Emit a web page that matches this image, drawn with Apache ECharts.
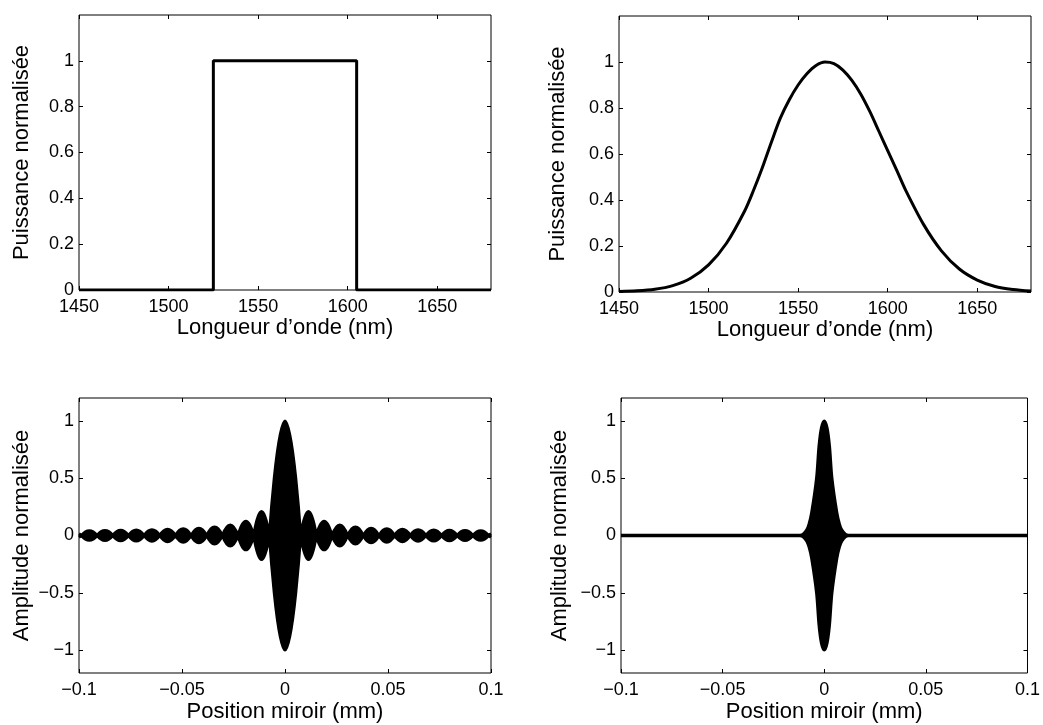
<!DOCTYPE html>
<html>
<head>
<meta charset="utf-8">
<title>Spectre et interférogramme</title>
<script src="https://cdn.jsdelivr.net/npm/echarts@6/dist/echarts.min.js"></script>
<style>
  html, body { margin: 0; padding: 0; background: #fff; }
  #main { width: 1043px; height: 725px; }
</style>
</head>
<body>
<div id="main"></div>
<script>
// spectre rectangulaire (haut gauche)
const rectLambda = [1450, 1525, 1525, 1605, 1605, 1680];
const rectPower = [0, 0, 1, 1, 0, 0];

// spectre gaussien (haut droite)
const gaussLambda = [1450, 1460, 1470, 1480, 1490, 1500, 1510, 1520, 1525, 1530, 1535, 1540, 1545,
  1550, 1555, 1560, 1565, 1570, 1575, 1580, 1585, 1590, 1595, 1600, 1605, 1610, 1620, 1630,
  1640, 1650, 1660, 1670, 1680];
const gaussPower = [0.002, 0.005, 0.012, 0.028, 0.06, 0.118, 0.212, 0.35, 0.44, 0.54, 0.65, 0.755, 0.835,
  0.9, 0.95, 0.985, 1, 0.993, 0.965, 0.92, 0.86, 0.785, 0.7, 0.615, 0.53, 0.443, 0.294, 0.179,
  0.1, 0.052, 0.024, 0.011, 0.004];

// interférogramme du spectre rectangulaire : zéros et sommets des lobes de l'enveloppe
const sincZeros = [-0.0988, -0.0912, -0.0836, -0.076, -0.0684, -0.0608, -0.0532, -0.0456, -0.038,
  -0.0304, -0.0228, -0.0152, -0.0076, 0.0076, 0.0152, 0.0228, 0.0304, 0.038, 0.0456, 0.0532,
  0.0608, 0.0684, 0.076, 0.0836, 0.0912, 0.0988];
const sincPeakX = [-0.095, -0.0874, -0.0798, -0.0722, -0.0646, -0.057, -0.0494, -0.0418, -0.0342,
  -0.0266, -0.019, -0.0114, 0, 0.0114, 0.019, 0.0266, 0.0342, 0.0418, 0.0494, 0.057, 0.0646,
  0.0722, 0.0798, 0.0874, 0.095];
const sincPeakY = [0.042, 0.043, 0.045, 0.047, 0.05, 0.054, 0.058, 0.064, 0.075, 0.092, 0.125, 0.21, 1,
  0.21, 0.125, 0.092, 0.075, 0.064, 0.058, 0.054, 0.05, 0.047, 0.045, 0.043, 0.042];
const sincEdge = 0.015;

// interférogramme du spectre gaussien : enveloppe
const gaussPos = [-0.1, -0.012, -0.0105, -0.0086, -0.0075, -0.0062, -0.0038, -0.0026, -0.0014, 0,
  0.0014, 0.0026, 0.0038, 0.0062, 0.0075, 0.0086, 0.0105, 0.012, 0.1];
const gaussEnv = [0, 0, 0.01, 0.05, 0.1, 0.2, 0.5, 0.78, 0.94, 1,
  0.94, 0.78, 0.5, 0.2, 0.1, 0.05, 0.01, 0, 0];

const specTicks = [1450, 1500, 1550, 1600, 1650];
const powerTicks = [0, 0.2, 0.4, 0.6, 0.8, 1];
const posTicks = [-0.1, -0.05, 0, 0.05, 0.1];
const ampTicks = [-1, -0.5, 0, 0.5, 1];

const FONT = 'Liberation Sans, Arial, Helvetica, sans-serif';
const minus = v => String(v).replace('-', '\u2212');

const grids = [
  { left: 79, top: 15, width: 412, height: 275 },
  { left: 619, top: 16, width: 412, height: 276 },
  { left: 79, top: 398, width: 412, height: 275 },
  { left: 621, top: 398, width: 411, height: 275 }
];

function xAxis(i, min, max, ticks, name, top) {
  return {
    type: 'value', gridIndex: i, min: min, max: max, position: top ? 'top' : 'bottom',
    name: top ? '' : name, nameLocation: 'middle', nameGap: i < 2 ? 26 : 28,
    nameTextStyle: { color: '#000', fontSize: 22, fontFamily: FONT },
    axisLine: { show: false, onZero: false },
    axisTick: { show: true, inside: true, length: 4, customValues: ticks, lineStyle: { color: '#000' } },
    axisLabel: {
      show: !top, customValues: ticks, formatter: minus, margin: 8,
      color: '#000', fontSize: 18, fontFamily: FONT, showMinLabel: true, showMaxLabel: true
    },
    splitLine: { show: false }
  };
}

function yAxis(i, min, max, ticks, name, right) {
  return {
    type: 'value', gridIndex: i, min: min, max: max, position: right ? 'right' : 'left',
    name: right ? '' : name, nameLocation: 'middle', nameRotate: 90, nameGap: i % 2 ? 50 : 46,
    nameTextStyle: { color: '#000', fontSize: 22, fontFamily: FONT },
    axisLine: { show: false, onZero: false },
    axisTick: { show: true, inside: true, length: 4, customValues: ticks, lineStyle: { color: '#000' } },
    axisLabel: {
      show: !right, customValues: ticks, formatter: minus, margin: 5,
      color: '#000', fontSize: 18, fontFamily: FONT
    },
    splitLine: { show: false }
  };
}

// lobes de l'enveloppe, séparés par des trous pour garder des noeuds pointus
function sincData(sign) {
  const pts = [[-0.1, sign * sincEdge], [sincZeros[0], 0], [sincZeros[0], '-']];
  for (let i = 0; i < sincPeakX.length; i++) {
    pts.push([sincZeros[i], 0], [sincPeakX[i], sign * sincPeakY[i]], [sincZeros[i + 1], 0], [sincZeros[i + 1], '-']);
  }
  pts.push([sincZeros[sincZeros.length - 1], 0], [0.1, sign * sincEdge]);
  return pts;
}

function envSeries(i, data, smooth) {
  return {
    type: 'line', xAxisIndex: i, yAxisIndex: i, data: data, smooth: smooth,
    showSymbol: false, symbol: 'none', connectNulls: false,
    lineStyle: { color: '#000', width: 3 },
    areaStyle: { color: '#000', opacity: 1 }
  };
}

// trait épais à zéro (cache aussi la jointure entre les deux aires)
function zeroSeries(i) {
  return {
    type: 'line', xAxisIndex: i, yAxisIndex: i, symbol: 'none', z: 3,
    data: [[-0.1, 0], [0.1, 0]],
    lineStyle: { color: '#000', width: 3.5 }
  };
}

const chart = echarts.init(document.getElementById('main'), null, { renderer: 'canvas' });

chart.setOption({
  animation: false,
  backgroundColor: '#fff',
  grid: grids.map(g => Object.assign({ show: true, borderColor: '#000', borderWidth: 1, backgroundColor: 'transparent' }, g)),
  xAxis: [
    xAxis(0, 1450, 1680, specTicks, 'Longueur d\u2019onde (nm)'),
    xAxis(1, 1450, 1680, specTicks, 'Longueur d\u2019onde (nm)'),
    xAxis(2, -0.1, 0.1, posTicks, 'Position miroir (mm)'),
    xAxis(3, -0.1, 0.1, posTicks, 'Position miroir (mm)'),
    xAxis(0, 1450, 1680, specTicks, '', true),
    xAxis(1, 1450, 1680, specTicks, '', true),
    xAxis(2, -0.1, 0.1, posTicks, '', true),
    xAxis(3, -0.1, 0.1, posTicks, '', true)
  ],
  yAxis: [
    yAxis(0, 0, 1.2, powerTicks, 'Puissance normalisée'),
    yAxis(1, 0, 1.2, powerTicks, 'Puissance normalisée'),
    yAxis(2, -1.2, 1.2, ampTicks, 'Amplitude normalisée'),
    yAxis(3, -1.2, 1.2, ampTicks, 'Amplitude normalisée'),
    yAxis(0, 0, 1.2, powerTicks, '', true),
    yAxis(1, 0, 1.2, powerTicks, '', true),
    yAxis(2, -1.2, 1.2, ampTicks, '', true),
    yAxis(3, -1.2, 1.2, ampTicks, '', true)
  ],
  series: [
    {
      type: 'line', xAxisIndex: 0, yAxisIndex: 0, symbol: 'none',
      data: rectLambda.map((l, k) => [l, rectPower[k]]),
      lineStyle: { color: '#000', width: 3 }
    },
    {
      type: 'line', xAxisIndex: 1, yAxisIndex: 1, symbol: 'none', smooth: 0.3,
      data: gaussLambda.map((l, k) => [l, gaussPower[k]]),
      lineStyle: { color: '#000', width: 3 }
    },
    envSeries(2, sincData(1), true),
    envSeries(2, sincData(-1), true),
    zeroSeries(2),
    envSeries(3, gaussPos.map((p, k) => [p, gaussEnv[k]]), 0.3),
    envSeries(3, gaussPos.map((p, k) => [p, -gaussEnv[k]]), 0.3),
    zeroSeries(3)
  ]
});
</script>
</body>
</html>
